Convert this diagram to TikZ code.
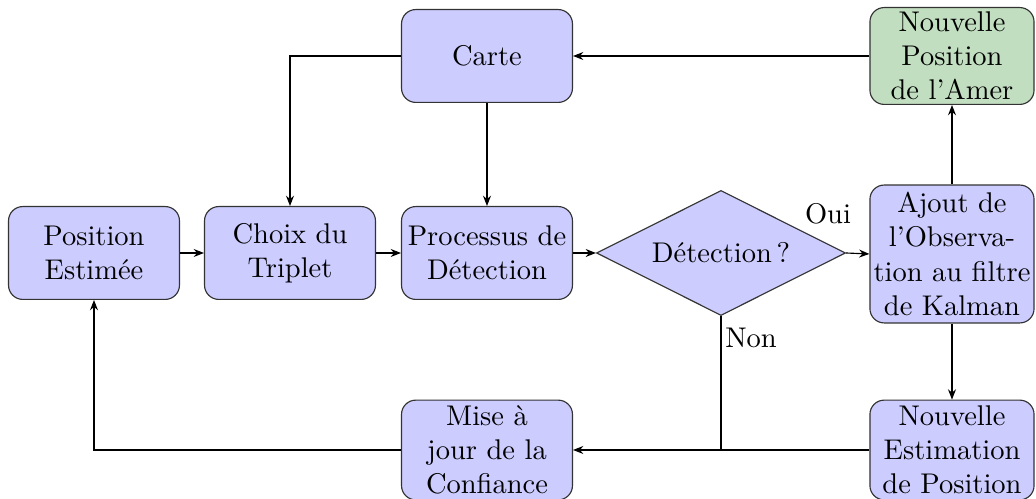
\documentclass[tikz,border=0pt]{standalone}
\usepackage{fontspec}
\usetikzlibrary{shapes.geometric,arrows.meta}
\definecolor{boxblue}{RGB}{204,204,255}
\definecolor{boxgreen}{RGB}{194,222,192}
\begin{document}
\begin{tikzpicture}[x=0.351pt,y=-0.351pt,
  box/.style={draw=black!80,fill=boxblue,rounded corners=5pt,align=center,inner sep=1pt,minimum width=60pt,minimum height=32.6pt},
  arr/.style={-{Stealth[length=3.6pt,width=2.8pt]}},
  every path/.style={line width=0.4pt}]
\useasboundingbox (0,0) rectangle (1036,499);
\node[box] (pos) at (94,253) {Position\\Estimée};
\node[box] (choix) at (290,253) {Choix du\\Triplet};
\node[box] (proc) at (487,253) {Processus de\\Détection};
\node[box] (carte) at (487,56) {Carte};
\node[draw=black!80,fill=boxblue,diamond,aspect=2,inner sep=0pt,minimum width=87.4pt,minimum height=43.9pt] (det) at (721,253) {Détection\,?};
\node[box,minimum width=57.6pt,minimum height=48.4pt] (ajout) at (952,254) {Ajout de\\l’Observa-\\tion au filtre\\de Kalman};
\node[box,fill=boxgreen,minimum width=57.6pt,minimum height=34pt] (amer) at (952,56) {Nouvelle\\Position\\de l’Amer};
\node[box,minimum width=57.6pt,minimum height=35pt] (estim) at (952,450) {Nouvelle\\Estimation\\de Position};
\node[box,minimum height=35pt] (mise) at (487,450) {Mise à\\jour de la\\Confiance};
\node (oui) at (828,214) {Oui};
\node (non) at (751,338) {Non};
\draw[arr] (carte.west) -| (choix.north);
\draw[arr] (carte) -- (proc);
\draw[arr] (pos) -- (choix);
\draw[arr] (choix) -- (proc);
\draw[arr] (proc) -- (det);
\draw[arr] (det.east) -- (ajout.west);
\draw[arr] (ajout) -- (amer);
\draw[arr] (ajout) -- (estim);
\draw[arr] (amer) -- (carte);
\draw[arr] (estim) -- (mise);
\draw (det.south) -- (det.south |- mise.east);
\draw[arr] (mise.west) -| (pos.south);
\end{tikzpicture}
\end{document}
